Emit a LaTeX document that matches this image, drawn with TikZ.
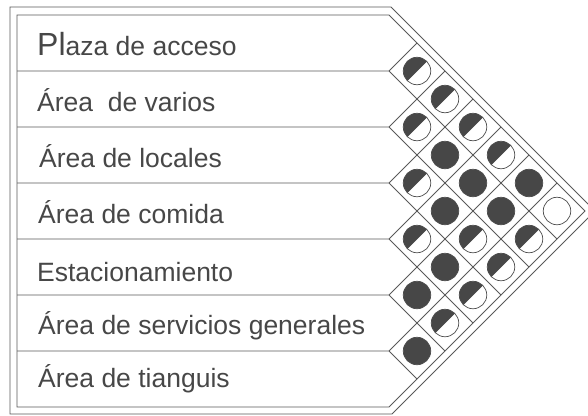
\documentclass[tikz,border=0pt]{standalone}
\usepackage{fontspec}
\setmainfont{Liberation Sans}
\usetikzlibrary{positioning}

\begin{document}
\begin{tikzpicture}[
  x=1pt,y=-1pt,
  linea/.style={draw=black!65,line width=0.8pt},
  etiqueta/.style={anchor=base west,inner sep=0pt,text=black!72,
                   font=\fontsize{26.5}{30}\selectfont},
  celda/.style={circle,draw=black!70,line width=0.7pt,minimum size=27.5pt,
                inner sep=0pt,fill=white},
  lleno/.style={celda,fill=black!72},
  vacio/.style={celda},
  medio/.style={celda,path picture={
      \fill[black!72] (path picture bounding box.south west)
        -- (path picture bounding box.north east)
        -- (path picture bounding box.north west) -- cycle;
      \draw[black!70,line width=0.6pt] (path picture bounding box.south west)
        -- (path picture bounding box.north east);}}]
  \useasboundingbox (0,0) rectangle (588,415);
  \clip (0,0) rectangle (588,415);
  % marcos
  \draw[linea] (10,7) -- (391,7) -- (595,211) -- (392,414) -- (10,414) -- cycle;
  \draw[linea] (17,15) -- (389,15) -- (585,211) -- (389,407) -- (17,407) -- cycle;
  % filas y reticula diagonal
  \foreach \k in {1,...,6} {
    \draw[linea] (17,15+56*\k) -- (389,15+56*\k) -- (585-28*\k,211+28*\k);
    \draw[linea] (389,15+56*\k) -- (389+28*\k,15+28*\k);
  }
  % nombres de las zonas
  \node[etiqueta] (plaza) at (37,55) {{\fontsize{32}{34}\selectfont Pl}aza de acceso};
  \node[etiqueta] (varios) at (37,111) {Área\ \ de varios};
  \node[etiqueta] (locales) at (39,167) {Área de locales};
  \node[etiqueta] (comida) at (38,223) {Área de comida};
  \node[etiqueta] (estac) at (37,281) {Estacionamiento};
  \node[etiqueta] (servicios) at (38,334) {Área de servicios generales};
  \node[etiqueta] (tianguis) at (38,387) {Área de tianguis};
  % relaciones
  \foreach \i/\j/\t in {0/1/medio,0/2/medio,0/3/medio,0/4/medio,0/5/lleno,0/6/vacio,
                        1/2/medio,1/3/lleno,1/4/lleno,1/5/lleno,1/6/medio,
                        2/3/medio,2/4/lleno,2/5/medio,2/6/medio,
                        3/4/medio,3/5/lleno,3/6/medio,
                        4/5/lleno,4/6/medio,
                        5/6/lleno} {
    \pgfmathsetmacro\cx{389+28*(\j-\i)}
    \pgfmathsetmacro\cy{43+28*(\i+\j)}
    \node[\t] (c\i\j) at (\cx,\cy) {};
  }
\end{tikzpicture}
\end{document}
